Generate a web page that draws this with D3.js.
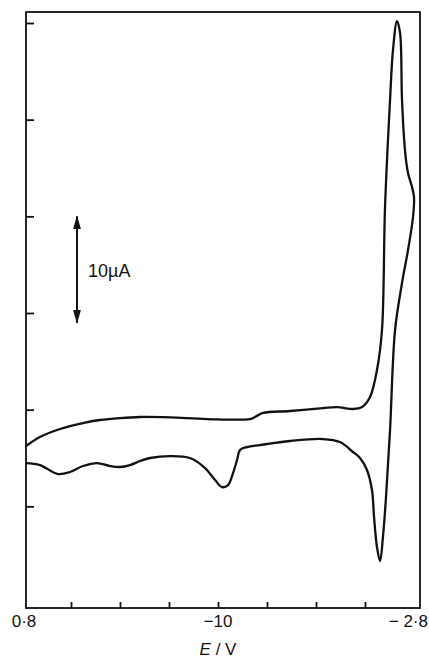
<!DOCTYPE html>
<html>
<head>
<meta charset="utf-8">
<script src="https://cdn.jsdelivr.net/npm/d3@7/dist/d3.min.js"></script>
<style>
  body { margin: 0; background: #fff; }
  svg { display: block; }
  text { font-family: "Liberation Sans", Arial, sans-serif; fill: #111; }
</style>
</head>
<body>
<svg width="429" height="662"></svg>
<script>
// cyclic voltammogram, potential E in V, current I in µA (arbitrary zero)
const forwardE = [0.763, 0.635, 0.451, 0.240, 0.084, -0.100, -0.284, -0.559, -0.899, -1.294,
  -1.340, -1.413, -1.661, -1.964, -2.093, -2.240, -2.323, -2.396, -2.460, -2.506,
  -2.534, -2.580, -2.607, -2.644, -2.672, -2.690, -2.717, -2.745, -2.782, -2.800];
const forwardI = [6.24, 7.17, 8.00, 8.62, 8.93, 9.13, 9.24, 9.20, 9.03, 9.03,
  9.24, 9.66, 9.86, 10.17, 10.27, 10.07, 10.27, 11.31, 14.10, 18.24,
  30.97, 42.03, 47.20, 50.20, 48.96, 42.03, 36.86, 34.48, 33.03, 32.00];

const reverseE = [-2.800, -2.791, -2.745, -2.690, -2.626, -2.580, -2.543, -2.515, -2.488, -2.460,
  -2.433, -2.414, -2.368, -2.304, -2.240, -2.120, -1.964, -1.661, -1.386, -1.266,
  -1.202, -1.175, -1.138, -1.092, -1.037, -0.973, -0.881, -0.743, -0.559, -0.376,
  -0.284, -0.192, -0.100, -0.008, 0.111, 0.240, 0.359, 0.469, 0.635, 0.763];
const reverseI = [32.00, 29.93, 26.51, 23.10, 18.24, 7.89, 0.96, -3.17, -5.66, -4.21,
  -1.11, 1.69, 3.76, 5.00, 5.62, 6.65, 6.96, 6.76, 6.34, 6.13,
  5.82, 4.79, 3.44, 2.20, 1.99, 2.72, 3.96, 5.00, 5.20, 5.00,
  4.69, 4.27, 4.07, 4.17, 4.48, 4.17, 3.55, 3.34, 4.27, 4.48];

const xTicks = [0.8, 0.35, -0.1, -0.55, -1.0, -1.45, -1.9, -2.35, -2.8];
const xTickLabels = ["0·8", "", "", "", "−10", "", "", "", "− 2·8"];
const yTicks = [0, 10, 20, 30, 40, 50];
const scaleBar = [19, 30]; // 10 µA marker

const svg = d3.select("svg");
const frame = { left: 26, right: 420, top: 12, bottom: 608 };

const x = d3.scaleLinear().domain([0.8, -2.8]).range([22, 414]);
const y = d3.scaleLinear().domain([-10, 50]).range([603, 23]);

// frame
svg.append("rect")
    .attr("x", frame.left).attr("y", frame.top)
    .attr("width", frame.right - frame.left)
    .attr("height", frame.bottom - frame.top)
    .attr("fill", "none").attr("stroke", "#111").attr("stroke-width", 1.8);

// inward ticks on bottom
const xAxis = svg.append("g")
    .attr("transform", `translate(0,${frame.bottom})`)
    .call(d3.axisBottom(x).tickValues(xTicks.slice(1, -1)).tickSize(-6).tickFormat(""));
xAxis.select(".domain").remove();
xAxis.selectAll("line").attr("stroke", "#111").attr("stroke-width", 1.8);

// inward ticks on left
const yAxis = svg.append("g")
    .attr("transform", `translate(${frame.left},0)`)
    .call(d3.axisLeft(y).tickValues(yTicks).tickSize(-8).tickFormat(""));
yAxis.select(".domain").remove();
yAxis.selectAll("line").attr("stroke", "#111").attr("stroke-width", 1.8);

// x tick labels (last one right-aligned to stay inside the page)
svg.selectAll("text.xlab")
    .data(xTicks.map((v, i) => ({ v, t: xTickLabels[i] })).filter(d => d.t))
    .enter().append("text")
    .attr("class", "xlab")
    .attr("x", d => d.v === -2.8 ? 428 : x(d.v) + (d.v === 0.8 ? 2 : 0))
    .attr("y", 627)
    .attr("text-anchor", d => d.v === -2.8 ? "end" : "middle")
    .attr("font-size", 17)
    .text(d => d.t);

// axis title
const title = svg.append("text")
    .attr("x", x(-1.0)).attr("y", 655)
    .attr("text-anchor", "middle")
    .attr("font-size", 17);
title.append("tspan").attr("font-style", "italic").text("E");
title.append("tspan").text(" / V");

// the curve
const line = d3.line()
    .x(d => x(d[0]))
    .y(d => y(d[1]))
    .curve(d3.curveCatmullRom.alpha(0.5));

const forward = forwardE.map((e, i) => [e, forwardI[i]]);
const reverse = reverseE.map((e, i) => [e, reverseI[i]]);

svg.append("path")
    .attr("d", line(forward.concat(reverse.slice(1))))
    .attr("fill", "none").attr("stroke", "#111")
    .attr("stroke-width", 2.3).attr("stroke-linejoin", "round");

// 10 µA scale marker
const ax = 77;
svg.append("defs").append("marker")
    .attr("id", "head")
    .attr("viewBox", "0 0 14 8")
    .attr("refX", 13).attr("refY", 4)
    .attr("markerWidth", 7).attr("markerHeight", 4)
    .attr("markerUnits", "strokeWidth")
    .attr("orient", "auto-start-reverse")
    .append("path").attr("d", "M0,0 L14,4 L0,8 z").attr("fill", "#111");

svg.append("line")
    .attr("x1", ax).attr("x2", ax)
    .attr("y1", y(scaleBar[0])).attr("y2", y(scaleBar[1]))
    .attr("stroke", "#111").attr("stroke-width", 2)
    .attr("marker-start", "url(#head)")
    .attr("marker-end", "url(#head)");

svg.append("text")
    .attr("x", 88).attr("y", 277)
    .attr("font-size", 18)
    .text("10µA");
</script>
</body>
</html>
